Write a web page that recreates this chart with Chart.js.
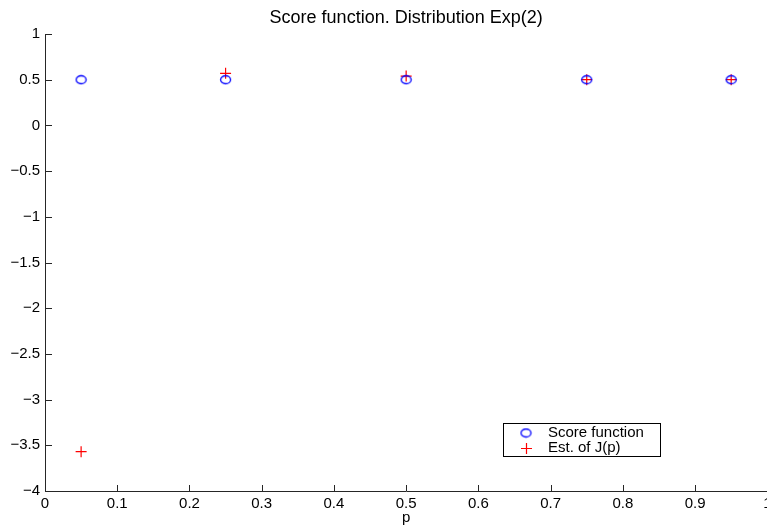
<!DOCTYPE html>
<html><head><meta charset="utf-8">
<script src="https://cdn.jsdelivr.net/npm/chart.js@4/dist/chart.umd.min.js"></script>
<style>html,body{margin:0;padding:0;background:#fff;overflow:hidden}#wrap{width:767px;height:525px;position:relative;overflow:hidden}canvas{display:block}</style>
</head><body><div id="wrap"><canvas id="c" width="774" height="525"></canvas></div>
<script>
// ---- data ----
const pValues = [0.05, 0.25, 0.5, 0.75, 0.95];
const scoreFunction = [0.5, 0.5, 0.5, 0.5, 0.5];
const estJ = [-3.57, 0.57, 0.54, 0.5, 0.5];
const xTickValues = [0, 0.1, 0.2, 0.3, 0.4, 0.5, 0.6, 0.7, 0.8, 0.9, 1];
const yTickValues = [-4, -3.5, -3, -2.5, -2, -1.5, -1, -0.5, 0, 0.5, 1];
const titleText = 'Score function. Distribution Exp(2)';
const xLabel = 'p';
const seriesLabels = ['Score function', 'Est. of J(p)'];

const FONT = "'Liberation Sans', Arial, Helvetica, sans-serif";
const AXIS = '#262626';

function fmt(v){ const s = String(Math.round(v*10)/10); return s.replace('-', '\u2212'); }

// ellipse marker like MATLAB 'o'
const ell = document.createElement('canvas');
ell.width = 13; ell.height = 11;
(function(){ const g = ell.getContext('2d'); g.strokeStyle = '#0000ff'; g.lineWidth = 1.3;
  g.beginPath(); g.ellipse(6.5, 5.5, 5, 4, 0, 0, Math.PI*2); g.stroke(); })();

const inwardTicks = {
  id: 'inwardTicks',
  afterDraw(chart){
    const {ctx, chartArea:a, scales:{x, y}} = chart;
    ctx.save(); ctx.strokeStyle = AXIS; ctx.lineWidth = 1;
    ctx.beginPath();
    xTickValues.forEach(v => { const px = Math.round(x.getPixelForValue(v)) + 0.5; ctx.moveTo(px, a.bottom); ctx.lineTo(px, a.bottom - 6); });
    yTickValues.forEach(v => { const py = Math.round(y.getPixelForValue(v)) + 0.5; ctx.moveTo(a.left, py); ctx.lineTo(a.left + 7, py); });
    ctx.stroke(); ctx.restore();
  }
};

const boxLegend = {
  id: 'boxLegend',
  afterDraw(chart){
    const ctx = chart.ctx;
    const bx = 503.5, by = 423.5, bw = 157, bh = 33;
    ctx.save();
    ctx.fillStyle = '#fff'; ctx.fillRect(bx, by, bw, bh);
    ctx.strokeStyle = '#000'; ctx.lineWidth = 1; ctx.strokeRect(bx, by, bw, bh);
    ctx.font = '15px ' + FONT; ctx.fillStyle = '#000'; ctx.textBaseline = 'middle'; ctx.textAlign = 'left';
    ctx.drawImage(ell, 526 - 6.5, 433 - 5.5);
    ctx.fillText(chart.data.datasets[0].label, 548, 433);
    ctx.strokeStyle = '#ff0000'; ctx.lineWidth = 1.2; ctx.beginPath();
    ctx.moveTo(521, 448.5); ctx.lineTo(532, 448.5); ctx.moveTo(526.5, 443); ctx.lineTo(526.5, 454); ctx.stroke();
    ctx.fillText(chart.data.datasets[1].label, 548, 448);
    ctx.restore();
  }
};

new Chart(document.getElementById('c'), {
  type: 'scatter',
  data: {
    datasets: [
      { label: seriesLabels[0], data: pValues.map((p,i)=>({x:p, y:scoreFunction[i]})),
        pointStyle: ell, pointRadius: 5, borderColor: '#0000ff', backgroundColor: 'rgba(0,0,0,0)', borderWidth: 1 },
      { label: seriesLabels[1], data: pValues.map((p,i)=>({x:p, y:estJ[i]})),
        pointStyle: 'cross', pointRadius: 5.5, borderColor: '#ff0000', backgroundColor: '#ff0000', borderWidth: 1.2 }
    ]
  },
  options: {
    responsive: false, animation: false, devicePixelRatio: 1,
    layout: { padding: 0 },
    plugins: {
      legend: { display: false }, tooltip: { enabled: false },
      title: { display: true, text: titleText, fullSize: false, color: '#000',
        font: { family: FONT, size: 18, weight: 'normal', lineHeight: 1.2 }, padding: { top: 7, bottom: 5.4 } }
    },
    scales: {
      x: { type: 'linear', min: 0, max: 1,
        afterBuildTicks: s => { s.ticks = xTickValues.map(v => ({value: v})); },
        afterFit: s => { s.height = 34; s.paddingLeft = 0; s.paddingRight = 0; },
        ticks: { callback: v => fmt(v), color: '#000', font: { family: FONT, size: 15 }, padding: 4, maxRotation: 0, autoSkip: false },
        grid: { display: true, drawOnChartArea: false, drawTicks: false },
        border: { display: true, color: AXIS, width: 1 },
        title: { display: true, text: xLabel, color: '#000', font: { family: FONT, size: 15, lineHeight: 1.0 }, padding: { top: 0, bottom: 0 } }
      },
      y: { type: 'linear', min: -4, max: 1,
        afterBuildTicks: s => { s.ticks = yTickValues.map(v => ({value: v})); },
        afterFit: s => { s.width = 45; s.paddingTop = 0; s.paddingBottom = 0; },
        ticks: { callback: v => fmt(v), color: '#000', font: { family: FONT, size: 15 }, padding: 5, autoSkip: false },
        grid: { display: true, drawOnChartArea: false, drawTicks: false },
        border: { display: true, color: AXIS, width: 1 }
      }
    }
  },
  plugins: [inwardTicks, boxLegend]
});
</script></body></html>
